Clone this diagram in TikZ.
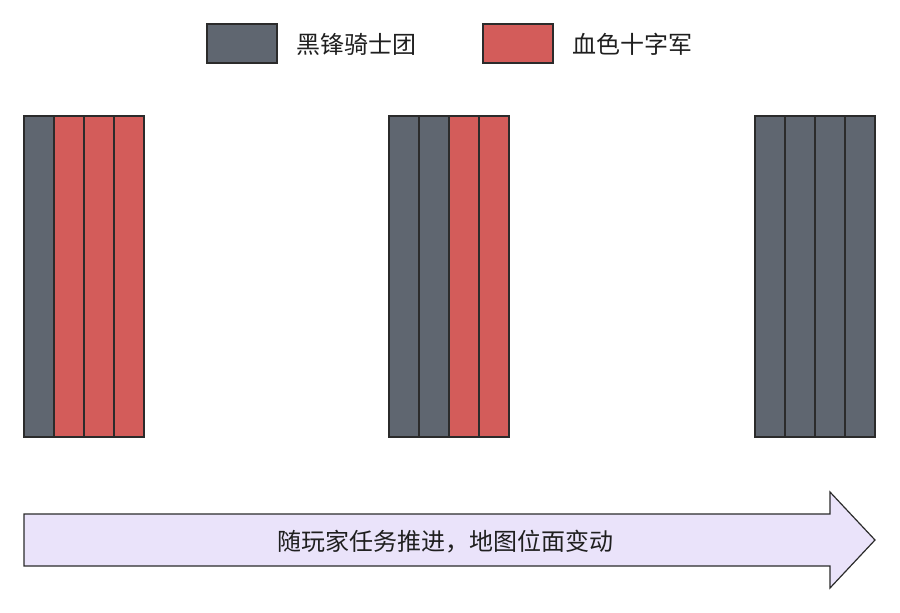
\documentclass[tikz,border=0pt]{standalone}
\usepackage{fontspec}
\newfontfamily\cjk{Noto Sans CJK SC}
\definecolor{knight}{HTML}{5F6670}
\definecolor{crusade}{HTML}{D35C5A}
\definecolor{arrowfill}{HTML}{EAE3FA}
\definecolor{edge}{HTML}{2B2B2B}
\begin{document}
\begin{tikzpicture}[x=1pt,y=-1pt,
  cell/.style={draw=edge,line width=1.4pt},
  lbl/.style={font=\cjk\fontsize{24}{27}\selectfont,text=black!88,anchor=west,inner sep=0pt}]
\useasboundingbox (0,0) rectangle (900,613);
% legend
\draw[cell,fill=knight] (207,24) rectangle (277,63) node[midway] (lk) {};
\node[lbl] (tk) at (296,44) {黑锋骑士团};
\draw[cell,fill=crusade] (483,24) rectangle (553,63) node[midway] (lc) {};
\node[lbl] (tc) at (572,44) {血色十字军};
% group 1
\foreach \i/\c in {0/knight,1/crusade,2/crusade,3/crusade}
  \draw[cell,fill=\c] ({24+30*\i},116) rectangle ({54+30*\i},437);
% group 2
\foreach \i/\c in {0/knight,1/knight,2/crusade,3/crusade}
  \draw[cell,fill=\c] ({389+30*\i},116) rectangle ({419+30*\i},437);
% group 3
\foreach \i/\c in {0/knight,1/knight,2/knight,3/knight}
  \draw[cell,fill=\c] ({755+30*\i},116) rectangle ({785+30*\i},437);
% arrow
\draw[cell,line width=1.2pt,fill=arrowfill,line join=miter]
  (24,514) -- (830,514) -- (830,492) -- (875,540) -- (830,588) -- (830,566) -- (24,566) -- cycle;
\node[font=\cjk\fontsize{24}{27}\selectfont,text=black!88,inner sep=0pt] (prog) at (445,542) {随玩家任务推进，地图位面变动};
\end{tikzpicture}
\end{document}
